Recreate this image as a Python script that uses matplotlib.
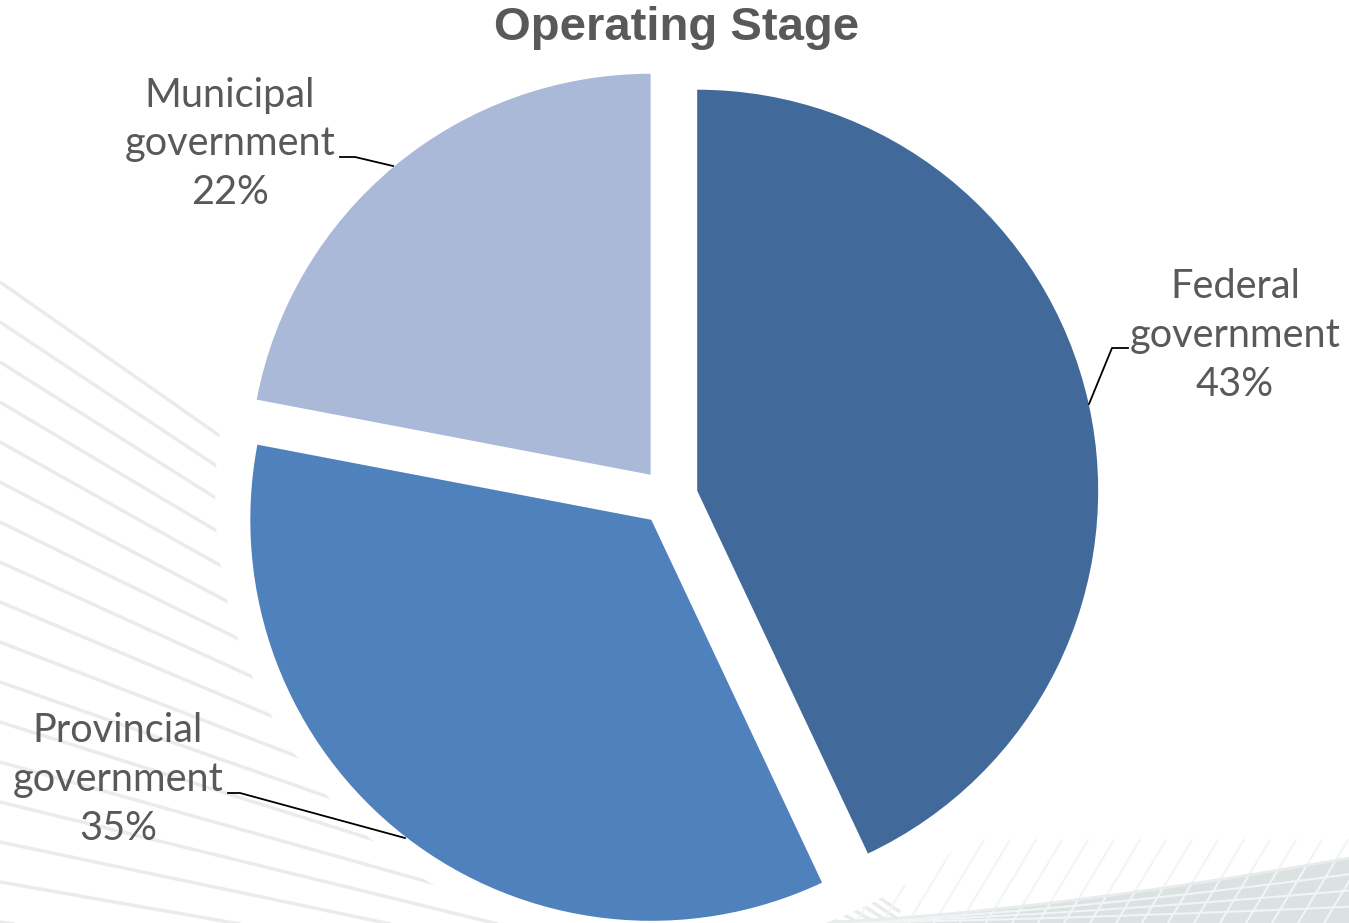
import matplotlib
matplotlib.use("Agg")
import matplotlib.pyplot as plt
import numpy as np

# data
labels = ["Federal\ngovernment", "Provincial\ngovernment", "Municipal\ngovernment"]
shares = [43, 35, 22]
colors = ["#416A9B", "#4F81BD", "#AAB9D7"]
title = "Operating Stage"

W, H = 1349, 923
cx, cy, R = 669, 497, 401  # pie centre / radius in pixels


def px(x, y):
    # pixel coords (origin top-left) -> data units of the pie
    return (np.asarray(x) - cx) / R, (cy - np.asarray(y)) / R


fig = plt.figure(figsize=(W / 100, H / 100), dpi=100)
ax = fig.add_axes([0, 0, 1, 1])
ax.axis("off")

# faint decorative background lines on the left
for i, y0 in enumerate(np.arange(282, 930, 40)):
    slope = 0.70 - 0.035 * i
    x, y = px([0, 900], [y0, y0 + slope * 900])
    ax.plot(x, y, color="#EAECEC", lw=2.5, zorder=0, solid_capstyle="butt")

# faint mesh band bottom right
t = np.linspace(800, W, 80)
top = 923 - ((t - 800) / (W - 800)) ** 1.5 * 65
x, y = px(t, top)
xb, yb = px(t, np.full_like(t, 923.0))
ax.fill_between(x, y, yb, color="#DCE2E2", lw=0, zorder=0)
for k in range(1, 4):
    yk = top + (923 - top) * k / 4
    x, y = px(t, yk)
    ax.plot(x, y, color="#F2F5F5", lw=1.5, zorder=0)
for xs0 in np.arange(880, W + 60, 26):
    x, y = px([xs0, xs0 - 50], [840, 923])
    ax.plot(x, y, color="#F2F5F5", lw=1.5, zorder=0)
# white fade above the band
x, y = px(t, top)
ax.plot(x, y, color="#E8ECEC", lw=2, zorder=0)

# white plot area behind the pie hides the lines
ax.add_patch(plt.Circle((0, 0), 1.13, color="white", zorder=1))

wedges, _ = ax.pie(shares, colors=colors, startangle=90, counterclock=False,
                   explode=[0.072] * 3, radius=1.0,
                   wedgeprops=dict(linewidth=0))
for w in wedges:
    w.set_zorder(2)

ax.set_xlim(-cx / R, (W - cx) / R)
ax.set_ylim(-(H - cy) / R, cy / R)
ax.set_aspect("auto")

label_font = dict(family=["Lato", "DejaVu Sans"], fontsize=28.6, color="#595959",
                  ha="center", va="center", linespacing=1.4, zorder=4)

# label positions (pixels) and leader lines
label_pos = [(1235, 335), (118, 780), (230, 144)]
leaders = [
    [(1128, 348), (1112, 348), (1089, 404)],
    [(228, 793), (240, 793), (405, 838)],
    [(340, 157), (355, 157), (393, 166)],
]
for lab, s, pos, ld in zip(labels, shares, label_pos, leaders):
    x, y = px(*pos)
    ax.text(x, y, f"{lab}\n{s}%", **label_font)
    pts = np.array([px(*p) for p in ld])
    ax.plot(pts[:, 0], pts[:, 1], color="black", lw=1.3, zorder=3)

tx, ty = px(677, 28)
ax.text(tx, ty, title, family=["Liberation Sans", "DejaVu Sans"], fontsize=34,
        fontweight="bold", color="#595959", ha="center", va="center", zorder=4)

fig.savefig("out.png", dpi=100)
